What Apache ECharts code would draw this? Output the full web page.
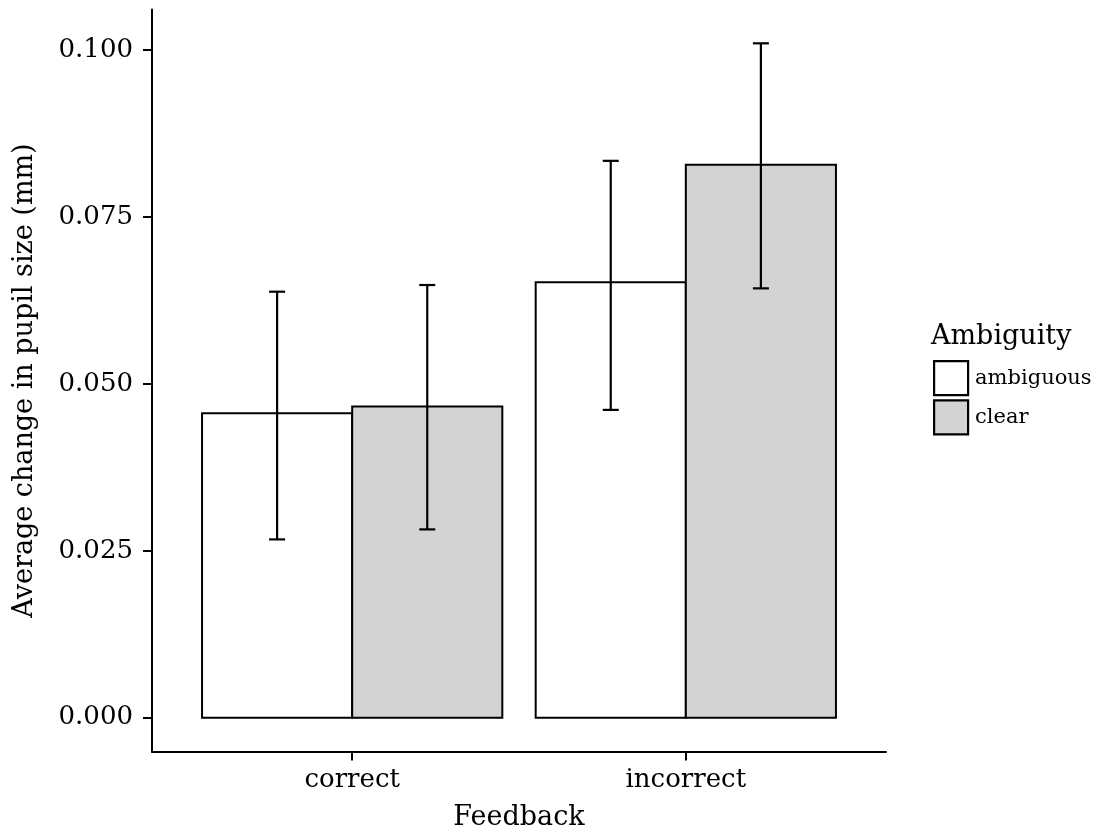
<!DOCTYPE html>
<html>
<head>
<meta charset="utf-8">
<script src="https://cdn.jsdelivr.net/npm/echarts@6/dist/echarts.min.js"></script>
<style>
  html, body { margin: 0; padding: 0; background: #ffffff; }
  #chart { width: 1108px; height: 830px; }
</style>
</head>
<body>
<div id="chart"></div>
<script>
// Pupil response by feedback type and stimulus ambiguity
const feedback = ['correct', 'incorrect'];
const ambiguity = ['ambiguous', 'clear'];

// mean change in pupil size (mm)
const meanAmbiguous = [0.0456, 0.0652];
const meanClear = [0.0466, 0.0828];

// error bar limits (lower, upper)
const lowAmbiguous = [0.0267, 0.0461];
const highAmbiguous = [0.0638, 0.0834];
const lowClear = [0.0282, 0.0643];
const highClear = [0.0648, 0.1010];

const yTicks = [0, 0.025, 0.05, 0.075, 0.1];

const FONT = 'DejaVu Serif';
const fills = { ambiguous: '#ffffff', clear: '#d3d3d3' };
const dodge = 0.45;        // width of one bar in category units
const offsets = { ambiguous: -dodge / 2, clear: dodge / 2 };

// padded value range, 5% beyond the data on each side
const yMaxData = Math.max(...highAmbiguous, ...highClear);
const yMin = -0.05 * yMaxData;
const yMax = yMaxData * 1.05;

function barSeries(name, means) {
  const off = offsets[name];
  return {
    name: name,
    type: 'custom',
    z: 2,
    itemStyle: { color: fills[name], borderColor: '#000', borderWidth: 2 },
    data: means.map((v, i) => [i + 1, v]),
    renderItem: function (params, api) {
      const x = api.value(0) + off;
      const p0 = api.coord([x - dodge / 2, 0]);
      const p1 = api.coord([x + dodge / 2, api.value(1)]);
      return {
        type: 'rect',
        shape: { x: p0[0], y: p1[1], width: p1[0] - p0[0], height: p0[1] - p1[1] },
        style: { fill: fills[name], stroke: '#000', lineWidth: 2 }
      };
    }
  };
}

function errorSeries(name, lows, highs) {
  const off = offsets[name];
  return {
    name: name + ' error',
    type: 'custom',
    z: 5,
    silent: true,
    data: lows.map((lo, i) => [i + 1, lo, highs[i]]),
    renderItem: function (params, api) {
      const x = api.value(0) + off;
      const lo = api.coord([x, api.value(1)]);
      const hi = api.coord([x, api.value(2)]);
      const cap = 8;
      const st = { stroke: '#000', lineWidth: 2.2 };
      return {
        type: 'group',
        children: [
          { type: 'line', shape: { x1: lo[0], y1: lo[1], x2: hi[0], y2: hi[1] }, style: st },
          { type: 'line', shape: { x1: hi[0] - cap, y1: hi[1], x2: hi[0] + cap, y2: hi[1] }, style: st },
          { type: 'line', shape: { x1: lo[0] - cap, y1: lo[1], x2: lo[0] + cap, y2: lo[1] }, style: st }
        ]
      };
    }
  };
}

const chart = echarts.init(document.getElementById('chart'), null, { renderer: 'canvas' });

chart.setOption({
  animation: false,
  backgroundColor: '#ffffff',
  textStyle: { fontFamily: FONT, color: '#000' },
  grid: { left: 152, right: 222, top: 9.6, bottom: 78.6, containLabel: false, outerBoundsMode: 'none' },
  title: {
    text: 'Ambiguity',
    left: 931, top: 323,
    padding: 0,
    textStyle: { fontFamily: FONT, fontSize: 27, fontWeight: 'normal', color: '#000' }
  },
  legend: {
    orient: 'vertical',
    left: 933, top: 360,
    padding: 0,
    itemWidth: 34, itemHeight: 34, itemGap: 3,
    icon: 'rect',
    data: ambiguity.map(a => ({
      name: a,
      itemStyle: { color: fills[a], borderColor: '#000', borderWidth: 2.2 }
    })),
    textStyle: { fontFamily: FONT, fontSize: 21, color: '#000', padding: [0, 0, 0, 2] },
    selectedMode: false
  },
  xAxis: {
    type: 'value',
    min: 0.4, max: 2.6,
    name: 'Feedback',
    nameLocation: 'middle',
    nameGap: 53,
    nameTextStyle: { fontFamily: FONT, fontSize: 27, color: '#000' },
    splitLine: { show: false },
    axisLine: { show: true, onZero: false, lineStyle: { color: '#000', width: 2 } },
    axisTick: { show: true, customValues: [1, 2], length: 9, lineStyle: { color: '#000', width: 2 } },
    axisLabel: {
      customValues: [1, 2],
      formatter: v => feedback[Math.round(v) - 1] || '',
      fontFamily: FONT, fontSize: 26, color: '#000', margin: 16
    }
  },
  yAxis: {
    type: 'value',
    min: yMin, max: yMax,
    name: 'Average change in pupil size (mm)',
    nameLocation: 'middle',
    nameGap: 114,
    nameTextStyle: { fontFamily: FONT, fontSize: 27, color: '#000' },
    splitLine: { show: false },
    axisLine: { show: true, onZero: false, lineStyle: { color: '#000', width: 2 } },
    axisTick: { show: true, customValues: yTicks, length: 9, lineStyle: { color: '#000', width: 2 } },
    axisLabel: {
      customValues: yTicks,
      formatter: v => v.toFixed(3),
      fontFamily: FONT, fontSize: 26, color: '#000', margin: 19
    }
  },
  series: [
    barSeries('ambiguous', meanAmbiguous),
    barSeries('clear', meanClear),
    errorSeries('ambiguous', lowAmbiguous, highAmbiguous),
    errorSeries('clear', lowClear, highClear)
  ]
});
</script>
</body>
</html>
